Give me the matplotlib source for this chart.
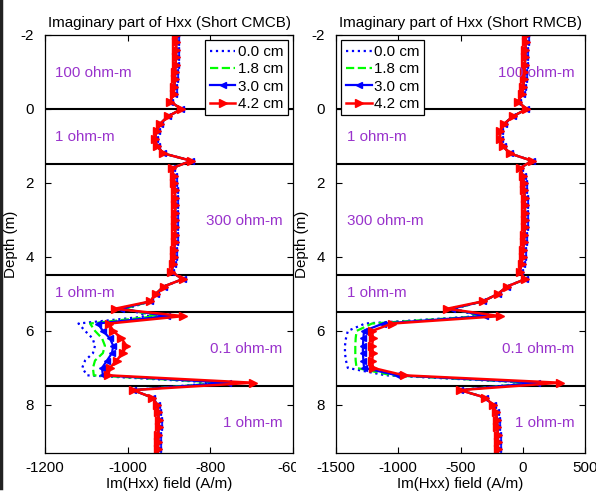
import matplotlib
matplotlib.use("Agg")
import matplotlib.pyplot as plt
from matplotlib.lines import Line2D
from matplotlib.transforms import Bbox, TransformedBbox

plt.rcParams['font.family'] = ['Liberation Sans', 'DejaVu Sans']
plt.rcParams['axes.unicode_minus'] = False

# depth samples (m)
depth = [-2.0, -1.8, -1.6, -1.4, -1.2, -1.0, -0.8, -0.6, -0.4, -0.2,
         0.0, 0.2, 0.4, 0.6, 0.8, 1.0, 1.2, 1.4, 1.6, 1.8,
         2.0, 2.2, 2.4, 2.6, 2.8, 3.0, 3.2, 3.4, 3.6, 3.8,
         4.0, 4.2, 4.4, 4.6, 4.8, 5.0, 5.2, 5.4, 5.6, 5.8,
         6.0, 6.2, 6.4, 6.6, 6.8, 7.0, 7.2, 7.4, 7.6, 7.8,
         8.0, 8.2, 8.4, 8.6, 8.8, 9.0, 9.2, 9.4]

series_labels = ['0.0 cm', '1.8 cm', '3.0 cm', '4.2 cm']

# Short CMCB: shared profile above 5.4 m and below 7.4 m
cmcb_upper = [-882, -882, -883, -883, -884, -885, -886, -887, -889, -897,
              -870, -902, -922, -930, -934, -929, -914, -846, -893, -889,
              -887, -886, -885, -885, -885, -885, -885, -885, -886, -887,
              -887, -890, -894, -867, -913, -932, -945]
cmcb_lower = [-987, -941, -928, -926, -925, -925, -926, -926, -927, -927]
# 5.4 .. 7.4 m, per coil offset
cmcb_00 = [-1003, -950, -1119, -1103, -1085, -1079, -1084, -1103, -1110, -1098, -782]
cmcb_18 = [-1008, -930, -1091, -1079, -1062, -1055, -1060, -1079, -1084, -1082, -770]
cmcb_30 = [-1016, -905, -1072, -1060, -1043, -1035, -1038, -1050, -1062, -1060, -758]
cmcb_42 = [-1031, -866, -1045, -1035, -1015, -1003, -1012, -1027, -1043, -1047, -697]

# Short RMCB
rmcb_upper = [25, 24, 22, 20, 17, 14, 10, 5, -5, -38,
              30, -78, -150, -180, -185, -160, -105, 74, -22, 0,
              8, 12, 15, 17, 18, 18, 16, 13, 9, 4,
              -2, -10, -25, 20, -127, -200, -320]
rmcb_lower = [-504, -303, -239, -215, -207, -203, -200, -200, -200, -200]
rmcb_00 = [-555, -350, -1267, -1405, -1420, -1428, -1428, -1420, -1405, -1100, 60]
rmcb_18 = [-560, -330, -1211, -1335, -1342, -1345, -1345, -1342, -1335, -1050, 85]
rmcb_30 = [-568, -303, -1122, -1275, -1280, -1284, -1284, -1280, -1275, -1010, 114]
rmcb_42 = [-608, -183, -1050, -1210, -1203, -1210, -1203, -1210, -1203, -955, 299]

boundaries = [0.0, 1.5, 4.5, 5.5, 7.5]
layer_text = ['100 ohm-m', '1 ohm-m', '300 ohm-m', '1 ohm-m', '0.1 ohm-m', '1 ohm-m']
layer_depth = [-0.97, 0.76, 3.03, 4.98, 6.5, 8.49]
cmcb_text_x = [-1176, -1176, -810, -1176, -801, -769]
rmcb_text_x = [-199, -1412, -1412, -1412, -167, -62]

styles = [dict(color='#0000FF', ls=':', lw=1.6),
          dict(color='#00FF00', ls='--', lw=1.6),
          dict(color='#0000FF', ls='-', lw=1.6, marker='<', ms=5),
          dict(color='#FF0000', ls='-', lw=1.8, marker='>', ms=5.5)]

fs = 10.9
W, H = 596, 493
fig = plt.figure(figsize=(W / 100, H / 100), dpi=100)

panels = [
    dict(rect=[45, 35, 293, 453], title='Imaginary part of Hxx (Short CMCB)',
         upper=cmcb_upper, lower=cmcb_lower, mid=[cmcb_00, cmcb_18, cmcb_30, cmcb_42],
         xlim=(-1200, -600), xticks=[-1200, -1000, -800, -600],
         tx=cmcb_text_x, loc='upper right'),
    dict(rect=[336, 35, 585, 453], title='Imaginary part of Hxx (Short RMCB)',
         upper=rmcb_upper, lower=rmcb_lower, mid=[rmcb_00, rmcb_18, rmcb_30, rmcb_42],
         xlim=(-1500, 500), xticks=[-1500, -1000, -500, 0, 500],
         tx=rmcb_text_x, loc='upper left'),
]

axes = []
for p in panels:
    x0, y0, x1, y1 = p['rect']
    ax = fig.add_axes([x0 / W, 1 - y1 / H, (x1 - x0) / W, (y1 - y0) / H])
    axes.append(ax)

    for b in boundaries:
        ax.axhline(b, color='black', lw=1.5, zorder=1)

    for vals, st, lab in zip(p['mid'], styles, series_labels):
        xs = p['upper'] + vals + p['lower']
        ax.plot(xs, depth, label=lab, zorder=2, **st)

    for t, d, x in zip(layer_text, layer_depth, p['tx']):
        ax.text(x, d, t, color='#9933CC', fontsize=fs, va='center', ha='left', zorder=3)

    ax.set_xlim(*p['xlim'])
    ax.set_ylim(9.3, -2)
    ax.set_xticks(p['xticks'])
    ax.set_xticklabels([str(v) for v in p['xticks']])
    ax.set_yticks([-2, 0, 2, 4, 6, 8])
    ax.tick_params(direction='in', top=True, right=True, length=4, width=0.8,
                   labelsize=fs, colors='black')
    ax.tick_params(axis='y', pad=8)
    ax.tick_params(axis='x', pad=6)
    for s in ax.spines.values():
        s.set_linewidth(0.9)
    ax.set_title(p['title'], fontsize=fs, pad=6)
    ax.set_xlabel('Im(Hxx) field (A/m)', fontsize=fs, labelpad=1)
    ax.set_ylabel('Depth (m)', fontsize=fs, labelpad=2)

    leg = ax.legend(loc=p['loc'], fontsize=fs, frameon=True, fancybox=False,
                    framealpha=1, edgecolor='black', borderpad=0.3,
                    labelspacing=0.22, handlelength=1.7, handletextpad=0.15,
                    borderaxespad=0.35, numpoints=1)
    leg.get_frame().set_linewidth(0.9)
    leg.set_zorder(5)

# "-600" is cut off at the panel edge in the original
lab = axes[0].get_xticklabels()[-1]
lab.set_clip_on(True)
lab.set_clip_box(TransformedBbox(Bbox([[0, 0], [296 / W, 1]]), fig.transFigure))

# dark edge on the left of the picture
fig.add_artist(Line2D([0.002, 0.002], [0.01, 1], color='#222222', lw=2.5))

fig.savefig('out.png', dpi=100)
